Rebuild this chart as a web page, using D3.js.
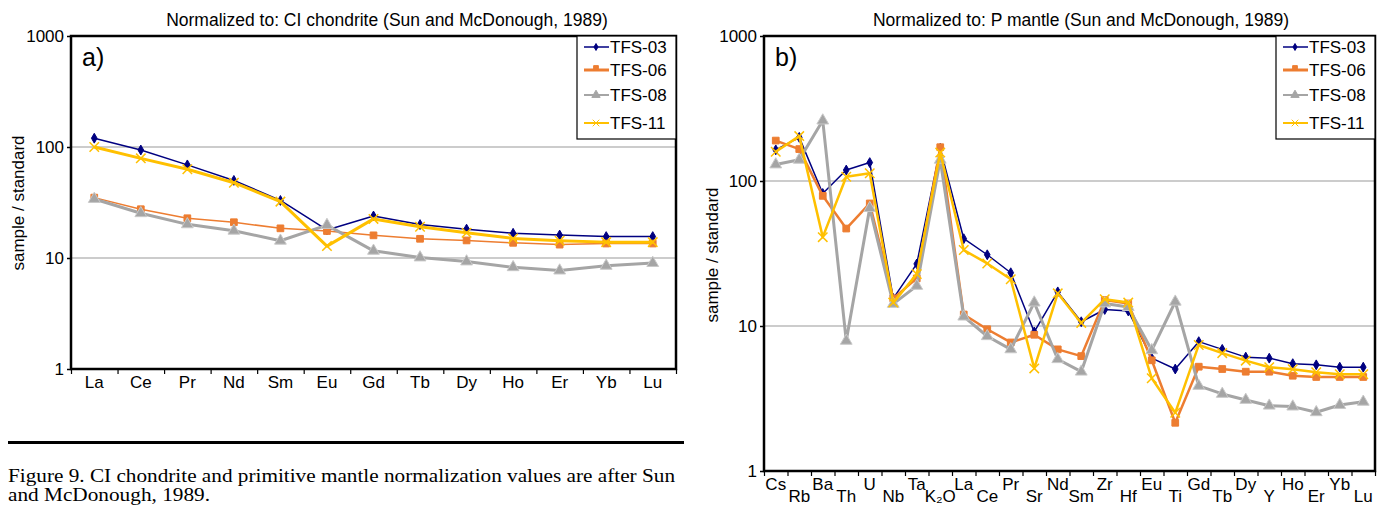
<!DOCTYPE html>
<html>

<head>
    <meta charset="utf-8">
    <title>REE and spider diagrams</title>
    <script src="https://d3js.org/d3.v7.min.js"></script>
    <style>
        body {
            margin: 0;
            background: #fff;
            font-family: "Liberation Sans", Arial, sans-serif;
        }

        .tick text {
            font-size: 17px;
            fill: #000;
        }

        .grid {
            stroke: #999;
            stroke-width: 1;
        }
    </style>
</head>

<body>
    <svg width="1385" height="506"></svg>

    <script>
        // ---- data ----
        const sampleNames = ["TFS-03", "TFS-06", "TFS-08", "TFS-11"];
        const sampleColors = ["#000080", "#ED7D31", "#A5A5A5", "#FFC000"];
        const yTickValues = [1, 10, 100, 1000];

        // a) chondrite-normalized REE
        const reeLabels = ["La", "Ce", "Pr", "Nd", "Sm", "Eu", "Gd", "Tb", "Dy", "Ho", "Er", "Yb", "Lu"];
        const reeTfs03 = [120, 94, 69, 50, 33, 17.9, 23.9, 20, 18.2, 16.7, 16.1, 15.6, 15.6];
        const reeTfs06 = [35, 27.5, 22.8, 21, 18.5, 17.5, 16, 14.9, 14.4, 13.7, 13.2, 13.5, 13.5];
        const reeTfs08 = [34, 25.3, 20.1, 17.6, 14.3, 19.8, 11.6, 10.1, 9.3, 8.25, 7.7, 8.5, 9.0];
        const reeTfs11 = [100, 79, 63, 47.7, 32.2, 12.8, 22.5, 19.1, 16.9, 15.0, 14.3, 13.9, 13.9];

        // b) primitive-mantle-normalized spider diagram
        const spiderLabels = ["Cs", "Rb", "Ba", "Th", "U", "Nb", "Ta", "K₂O", "La", "Ce", "Pr", "Sr", "Nd",
            "Sm", "Zr", "Hf", "Eu", "Ti", "Gd", "Tb", "Dy", "Y", "Ho", "Er", "Yb", "Lu"];
        const spiderTfs03 = [164, 200, 82, 119, 134, 15.5, 26.8, 168, 40, 31, 23.3, 9.1, 17.2,
            10.7, 13.0, 12.7, 6.0, 5.05, 7.8, 6.9, 6.1, 6.0, 5.5, 5.4, 5.2, 5.2];
        const spiderTfs06 = [190, 166, 79, 47, 70, 15.5, 21.3, 171, 12.0, 9.5, 7.7, 8.7, 6.9,
            6.2, 15.1, 14.3, 5.8, 2.15, 5.24, 5.05, 4.84, 4.84, 4.54, 4.45, 4.45, 4.45];
        const spiderTfs08 = [130, 140, 261, 7.9, 65, 14.2, 18.9, 140, 11.6, 8.5, 6.9, 14.5, 5.9,
            4.84, 14.3, 13.5, 6.8, 14.7, 3.86, 3.4, 3.09, 2.82, 2.78, 2.54, 2.85, 3.0];
        const spiderTfs11 = [159, 204, 41, 107, 113, 14.5, 22.8, 157, 33.4, 27, 21, 5.1, 16.8,
            10.5, 15.3, 14.5, 4.36, 2.52, 7.4, 6.5, 5.77, 5.2, 5.03, 4.8, 4.65, 4.65];

        const svg = d3.select("svg");

        const markerTypes = [d3.symbolDiamond, d3.symbolSquare, d3.symbolTriangle, d3.symbolX];
        const markerSizes = [28, 45, 60, 60];

        function drawPanel(p) {
            const x = d3.scaleBand().domain(p.labels).range([p.left, p.right]);
            const y = d3.scaleLog().domain([1, 1000]).range([p.bottom, p.top]);
            const cx = d => x(d) + x.bandwidth() / 2;
            const g = svg.append("g");

            // title
            g.append("text")
                .attr("x", p.titleX).attr("y", 26)
                .attr("text-anchor", "middle")
                .style("font-size", "17.5px")
                .text(p.title);

            // gridlines
            g.selectAll(".grid")
                .data([10, 100])
                .enter().append("line")
                .attr("class", "grid")
                .attr("x1", p.left).attr("x2", p.right)
                .attr("y1", d => y(d)).attr("y2", d => y(d));

            // y axis
            const ya = g.append("g")
                .attr("transform", "translate(" + p.left + ",0)")
                .call(d3.axisLeft(y).tickValues(yTickValues).tickFormat(d3.format("d")).tickSize(4).tickPadding(3));
            ya.select(".domain").remove();
            ya.selectAll(".tick line").attr("stroke", "#000").attr("stroke-width", 1.5);

            // x ticks at category boundaries
            const bounds = d3.scaleLinear().domain([0, p.labels.length]).range([p.left, p.right]);
            const xt = g.append("g")
                .attr("transform", "translate(0," + p.bottom + ")")
                .call(d3.axisBottom(bounds).tickValues(d3.range(p.labels.length + 1)).tickFormat("").tickSize(5));
            xt.select(".domain").remove();
            xt.selectAll(".tick line").attr("stroke", "#000").attr("stroke-width", 1.2);

            // x labels
            const xa = g.append("g")
                .attr("transform", "translate(0," + p.bottom + ")")
                .call(d3.axisBottom(x).tickSize(0).tickPadding(0));
            xa.select(".domain").remove();
            xa.selectAll(".tick text")
                .attr("dy", null)
                .attr("y", (d, i) => p.twoRows && i % 2 === 1 ? 31 : 19);

            // y axis title
            g.append("text")
                .attr("transform", "translate(" + p.yTitleX + "," + p.yTitleY + ") rotate(-90)")
                .attr("text-anchor", "middle")
                .style("font-size", "17px")
                .text("sample / standard");

            // series lines
            const line = d3.line().x((d, i) => cx(p.labels[i])).y(d => y(d));
            p.series.forEach((vals, s) => {
                g.append("path")
                    .datum(vals)
                    .attr("fill", "none")
                    .attr("stroke", sampleColors[s])
                    .attr("stroke-width", p.widths[s])
                    .attr("stroke-linejoin", "round")
                    .attr("d", line);

                g.selectAll(".m" + s)
                    .data(vals)
                    .enter().append("path")
                    .attr("class", "m" + s)
                    .attr("transform", (d, i) => "translate(" + cx(p.labels[i]) + "," + y(d) + ")")
                    .attr("d", d3.symbol(markerTypes[s], markerSizes[s]))
                    .attr("fill", s === 3 ? "none" : sampleColors[s])
                    .attr("stroke", s === 2 ? "#c8c8c8" : sampleColors[s])
                    .attr("stroke-width", s === 3 ? 1.5 : 1);
            });

            // plot frame
            g.append("rect")
                .attr("x", p.left).attr("y", p.top)
                .attr("width", p.right - p.left).attr("height", p.bottom - p.top)
                .attr("fill", "none").attr("stroke", "#000").attr("stroke-width", 2.5);

            // panel tag
            g.append("text")
                .attr("x", p.left + 11).attr("y", p.top + 30)
                .style("font-size", "25px")
                .text(p.tag);

            // legend
            const lx = p.right - 99, ly = p.top;
            g.append("rect")
                .attr("x", lx).attr("y", ly)
                .attr("width", 99).attr("height", 103)
                .attr("fill", "#fff").attr("stroke", "#000").attr("stroke-width", 1.2);
            const rows = [11, 34, 59, 87];
            sampleNames.forEach((name, s) => {
                const ry = ly + rows[s];
                g.append("line")
                    .attr("x1", lx + 7).attr("x2", lx + 32)
                    .attr("y1", ry).attr("y2", ry)
                    .attr("stroke", sampleColors[s])
                    .attr("stroke-width", [1.5, 3, 2, 2][s]);
                g.append("path")
                    .attr("transform", "translate(" + (lx + 19) + "," + (ry - (s === 1 ? 2 : 0)) + ")")
                    .attr("d", d3.symbol(markerTypes[s], markerSizes[s] * 0.5))
                    .attr("fill", s === 3 ? "none" : sampleColors[s])
                    .attr("stroke", sampleColors[s])
                    .attr("stroke-width", 1);
                g.append("text")
                    .attr("x", lx + 33).attr("y", ry + 6)
                    .style("font-size", "17px")
                    .text(name);
            });
        }

        drawPanel({
            labels: reeLabels,
            series: [reeTfs03, reeTfs06, reeTfs08, reeTfs11],
            widths: [1.5, 1.5, 3, 3],
            left: 71, right: 676, top: 36, bottom: 369,
            title: "Normalized to: CI chondrite (Sun and McDonough, 1989)",
            titleX: 387, yTitleX: 24, yTitleY: 203,
            tag: "a)", twoRows: false
        });

        drawPanel({
            labels: spiderLabels,
            series: [spiderTfs03, spiderTfs06, spiderTfs08, spiderTfs11],
            widths: [1.5, 2.5, 3, 2.5],
            left: 764, right: 1375, top: 36, bottom: 471,
            title: "Normalized to: P mantle (Sun and McDonough, 1989)",
            titleX: 1081, yTitleX: 718, yTitleY: 255,
            tag: "b)", twoRows: true
        });

        // caption under panel a
        svg.append("line")
            .attr("x1", 8).attr("x2", 684)
            .attr("y1", 442.5).attr("y2", 442.5)
            .attr("stroke", "#000").attr("stroke-width", 3);

        const caption = [
            "Figure 9. CI chondrite and primitive mantle normalization values are after Sun",
            "and McDonough, 1989."
        ];
        const captionWidths = [667, 202];
        svg.selectAll(".caption")
            .data(caption)
            .enter().append("text")
            .attr("class", "caption")
            .attr("x", 8)
            .attr("y", (d, i) => 482 + i * 19)
            .attr("textLength", (d, i) => captionWidths[i])
            .attr("lengthAdjust", "spacingAndGlyphs")
            .style("font-family", "'Liberation Serif', 'Times New Roman', serif")
            .style("font-size", "18px")
            .text(d => d);
    </script>
</body>

</html>
